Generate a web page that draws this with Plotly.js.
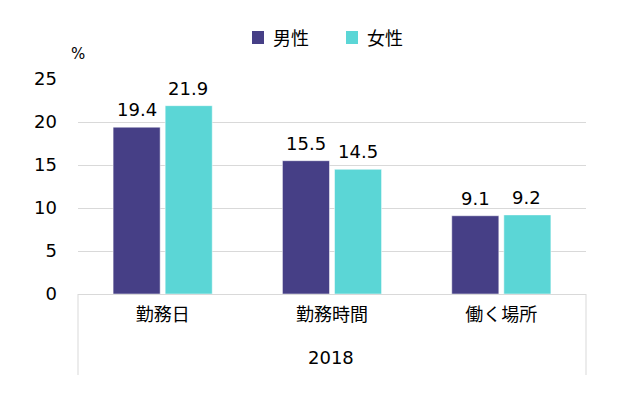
<!DOCTYPE html>
<html><head><meta charset="utf-8">
<script src="https://cdn.plot.ly/plotly-3.0.1.min.js"></script>
<style>body{margin:0}#c{width:634px;height:395px}</style>
</head><body><div id="c"></div>
<script>
const groupLabel = '2018';
const categories = ['勤務日','勤務時間','働く場所'];
const male = [19.4, 15.5, 9.1];
const female = [21.9, 14.5, 9.2];
const seriesNames = ['男性','女性'];
const seriesColors = ['#463F86','#5BD6D6'];
const yTicks = [0,5,10,15,20,25];
const yUnit = '%';

const F = '"DejaVu Sans", Verdana, "Noto Sans CJK JP", sans-serif';
const FJ = '"Noto Sans CJK JP", sans-serif';
const mk = (name, vals, color) => ({
  type:'bar', name, x:categories, y:vals,
  marker:{color, line:{color:'rgba(255,255,255,0.5)', width:1}},
  hoverinfo:'none'
});
const series = [male, female];
const data = series.map((vals,i)=>mk(seriesNames[i], vals, seriesColors[i]));

const plotTop = 79, plotBottom = 294, W = 634, H = 395, L = 78, R = 586;
const paperY = pix => (plotBottom - pix) / (plotBottom - plotTop);
const paperX = pix => (pix - L) / (R - L);

const shapes = [
  {type:'line', xref:'paper', yref:'paper', x0:0, x1:0, y0:0, y1:paperY(375), line:{color:'#d9d9d9', width:1}},
  {type:'line', xref:'paper', yref:'paper', x0:1, x1:1, y0:0, y1:paperY(375), line:{color:'#d9d9d9', width:1}},
];
const annotations = [
  {text:yUnit, xref:'paper', yref:'paper', x:paperX(77.5), y:paperY(54), xanchor:'center', yanchor:'middle',
    showarrow:false, font:{family:F, size:15, color:'#000'}},
  {text:groupLabel, xref:'paper', yref:'paper', x:paperX(331), y:paperY(357), xanchor:'center', yanchor:'middle',
    showarrow:false, font:{family:F, size:18, color:'#000'}},
];
// value labels, placed at each bar's data value
const barShift = [-26, 25.5];
series.forEach((vals,i)=>vals.forEach((v,j)=>{
  annotations.push({text:v.toFixed(1), x:categories[j], y:v, xref:'x', yref:'y',
    xshift:barShift[i], yshift:5, xanchor:'center', yanchor:'bottom', showarrow:false,
    font:{family:F, size:18, color:'#000'}});
}));
// manual legend
const legendPos = [{sq:258, tx:271}, {sq:352, tx:365}];
seriesNames.forEach((n,i)=>{
  shapes.push({type:'rect', xref:'paper', yref:'paper',
    x0:paperX(legendPos[i].sq-6), x1:paperX(legendPos[i].sq+6), y0:paperY(44), y1:paperY(31),
    fillcolor:seriesColors[i], line:{width:0}});
  annotations.push({text:n, xref:'paper', yref:'paper', x:paperX(legendPos[i].tx), y:paperY(37),
    xanchor:'left', yanchor:'middle', showarrow:false, font:{family:FJ, size:18, color:'#000'}});
});

const layout = {
  width:W, height:H,
  margin:{l:L, r:W-R, t:plotTop, b:H-plotBottom, autoexpand:false},
  paper_bgcolor:'#fff', plot_bgcolor:'#fff',
  barmode:'group', bargap:0.385, bargroupgap:0.096,
  showlegend:false,
  xaxis:{type:'category', showline:true, linecolor:'#d9d9d9', linewidth:1,
    tickfont:{family:FJ, size:18, color:'#000'}, ticks:'', ticklabelstandoff:4},
  yaxis:{range:[0,25], tickvals:yTicks, showgrid:true, gridcolor:'#d9d9d9',
    zeroline:false, showline:false, ticks:'', ticklabelstandoff:20,
    tickfont:{family:F, size:18, color:'#000'}},
  shapes, annotations
};
Plotly.newPlot('c', data, layout, {displayModeBar:false, staticPlot:true});
</script></body></html>
